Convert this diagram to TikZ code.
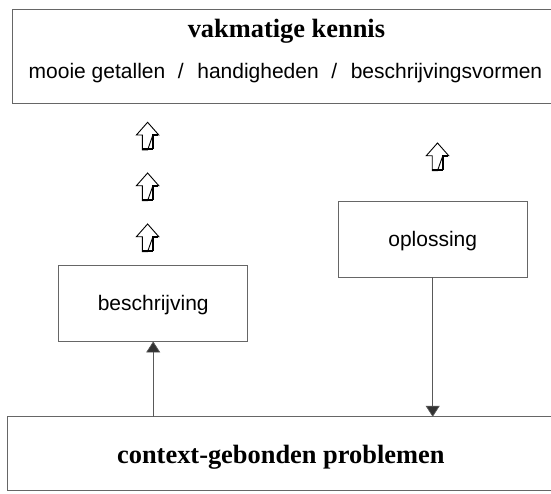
\documentclass[tikz,border=0pt]{standalone}
\usepackage{fontspec}
\setmainfont{Liberation Serif}
\setsansfont{Liberation Sans}
\usetikzlibrary{arrows.meta}
\tikzset{
  boxline/.style={draw=black!60, line width=0.9pt},
  sanslabel/.style={font=\sffamily\fontsize{21}{25}\selectfont, inner sep=0pt},
  serifbold/.style={font=\fontsize{26.4}{31}\selectfont\bfseries, inner sep=0pt},
  flowarrow/.style={draw=black!65, line width=0.7pt, -{Triangle[length=11pt,width=14pt,fill=black!80]}},
  blockarrow/.style={draw=black, line width=0.9pt, fill=white, line join=miter},
  pics/fatup/.style={code={
    \draw[blockarrow] (0,0) -- (-5.3,0) -- (-5.3,-15) -- (-11.2,-15) -- (0,-27.7) -- (11.2,-15) -- (5.3,-15) -- cycle;
    \draw[line width=2pt] (-5.3,-1) -- (5.3,-1);
    \draw[line width=1.6pt] (5.3,-1) -- (5.3,-15) -- (10.5,-15);
  }}
}
\begin{document}
\begin{tikzpicture}[x=1pt,y=-1pt]
\useasboundingbox (0,0) rectangle (551,493);
% top box
\node[minimum width=538.7pt, minimum height=93pt, inner sep=0pt] (kennis) at (281.7,56.5) {};
\draw[boxline] (kennis.north east) -- (kennis.north west) -- (kennis.south west) -- (kennis.south east);
\node[serifbold, anchor=base] (titel) at (286.4,37) {vakmatige kennis};
\node[sanslabel, anchor=base] (vormen) at (285.5,78) {mooie getallen\hspace{12.6pt}/\hspace{13.6pt}handigheden\hspace{12.6pt}/\hspace{13.6pt}beschrijvingsvormen};
% bottom box
\node[minimum width=543.3pt, minimum height=73pt, inner sep=0pt] (context) at (279.35,453.5) {};
\draw[boxline] (context.north east) -- (context.north west) -- (context.south west) -- (context.south east);
\node[serifbold, anchor=base] (contexttxt) at (280.8,463) {context-gebonden problemen};
% middle boxes
\node[boxline, minimum width=189pt, minimum height=76pt, inner sep=0pt] (besch) at (153.2,303) {};
\node[sanslabel, anchor=base] (beschtxt) at (153.2,310) {beschrijving};
\node[boxline, minimum width=188.7pt, minimum height=76pt, inner sep=0pt] (opl) at (432.7,239) {};
\node[sanslabel, anchor=base] (opltxt) at (432.7,246.7) {oplossing};
% connectors
\draw[flowarrow] (besch.south |- context.north) -- (besch.south);
\draw[flowarrow] (opl.south) -- (opl.south |- context.north);
% block arrows
\pic (pa) at (147.6,150) {fatup};
\pic (pb) at (147.6,200.7) {fatup};
\pic (pc) at (147.6,251.7) {fatup};
\pic (pd) at (437.5,170.7) {fatup};
\end{tikzpicture}
\end{document}
